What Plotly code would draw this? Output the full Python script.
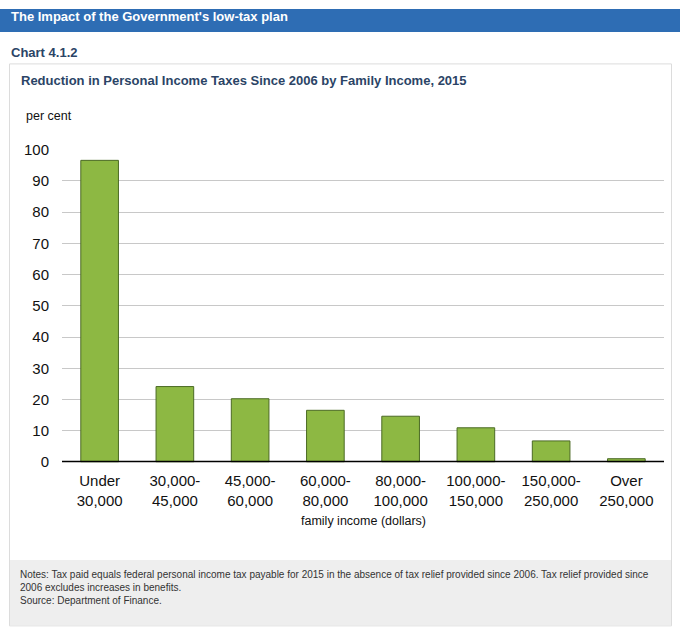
import plotly.graph_objects as go

# Chart 4.1.2 - reduction in personal income taxes since 2006, by family income
categorias = ["Under<br>30,000", "30,000-<br>45,000", "45,000-<br>60,000", "60,000-<br>80,000",
              "80,000-<br>100,000", "100,000-<br>150,000", "150,000-<br>250,000", "Over<br>250,000"]
reduccion = [96.6, 24.2, 20.3, 16.6, 14.7, 11.0, 6.8, 1.1]
ticks_y = [0, 10, 20, 30, 40, 50, 60, 70, 80, 90, 100]

W, H = 680, 634
FUENTE = "Liberation Sans, Arial, Helvetica, sans-serif"

# la foto del navegador baja la pagina 8px y la comprime un 2.5% en vertical
DESPL, ESCALA = 8, 0.975


def px_x(v):
    return v / W


def px_y(v):
    return 1 - ((v - DESPL) / ESCALA) / H


fig = go.Figure()
fig.add_trace(go.Bar(
    x=categorias, y=reduccion,
    marker=dict(color="#8DB843", line=dict(color="#4B6A24", width=1)),
    width=0.5, hoverinfo="x+y",
))

formas = [
    # barra azul de cabecera
    dict(type="rect", xref="paper", yref="paper", x0=0, x1=1, y0=px_y(31), y1=1,
         fillcolor="#2E6DB4", line=dict(width=0), layer="below"),
    # panel del grafico
    dict(type="rect", xref="paper", yref="paper", x0=px_x(9.5), x1=px_x(671.5), y0=px_y(626), y1=px_y(63),
         fillcolor="white", line=dict(color="#DCDCDC", width=1), layer="below"),
    # caja de notas
    dict(type="rect", xref="paper", yref="paper", x0=px_x(10), x1=px_x(671), y0=px_y(625.5), y1=px_y(560),
         fillcolor="#EEEEEE", line=dict(width=0), layer="below"),
    # linea base en cero
    dict(type="line", xref="x domain", yref="y", x0=0, x1=1, y0=0, y1=0,
         line=dict(color="black", width=3)),
]

anotaciones = [
    dict(text="<b>The Impact of the Government's low-tax plan</b>", x=px_x(9), y=px_y(16),
         font=dict(size=13, color="white")),
    dict(text="<b>Chart 4.1.2</b>", x=px_x(9), y=px_y(52), font=dict(size=13, color="#2B4466")),
    dict(text="<b>Reduction in Personal Income Taxes Since 2006 by Family Income, 2015</b>",
         x=px_x(19), y=px_y(80), font=dict(size=13, color="#2B4466")),
    dict(text="per cent", x=px_x(24), y=px_y(115), font=dict(size=12.5, color="#111111")),
    dict(text="family income (dollars)", x=px_x(363), y=px_y(521), xanchor="center",
         font=dict(size=12.5, color="#111111")),
    dict(text="Notes: Tax paid equals federal personal income tax payable for 2015 in the absence of tax relief provided since 2006. Tax relief provided since"
         "<br>2006 excludes increases in benefits.<br>Source: Department of Finance.",
         x=px_x(18), y=px_y(567), yanchor="top", align="left",
         font=dict(size=10, color="#333333")),
]
for a in anotaciones:
    a.setdefault("xanchor", "left")
    a.setdefault("yanchor", "middle")
    a.update(xref="paper", yref="paper", showarrow=False)

fig.update_layout(
    width=W, height=H,
    margin=dict(l=0, r=0, t=0, b=0),
    paper_bgcolor="white", plot_bgcolor="white",
    font=dict(family=FUENTE, color="#111111"),
    showlegend=False,
    shapes=formas,
    annotations=anotaciones,
    bargap=0.5,
)
fig.update_xaxes(
    domain=[px_x(62), px_x(664)],
    tickfont=dict(size=15, color="#111111"),
    showgrid=False, showline=False, ticks="",
    ticklabelstandoff=8,
)
fig.update_yaxes(
    domain=[px_y(462), px_y(149)],
    range=[0, 100], tickvals=ticks_y,
    tickfont=dict(size=15, color="#111111"),
    showgrid=True, gridcolor="#C8C8C8", gridwidth=1,
    zeroline=False, showline=False, ticks="",
    ticklabelstandoff=12,
)

# sin margen del body para que la figura ocupe la ventana entera
fig.write_html("out.html", config={"displayModeBar": False},
               post_script="document.body.style.margin='0';document.body.style.overflow='hidden';")
